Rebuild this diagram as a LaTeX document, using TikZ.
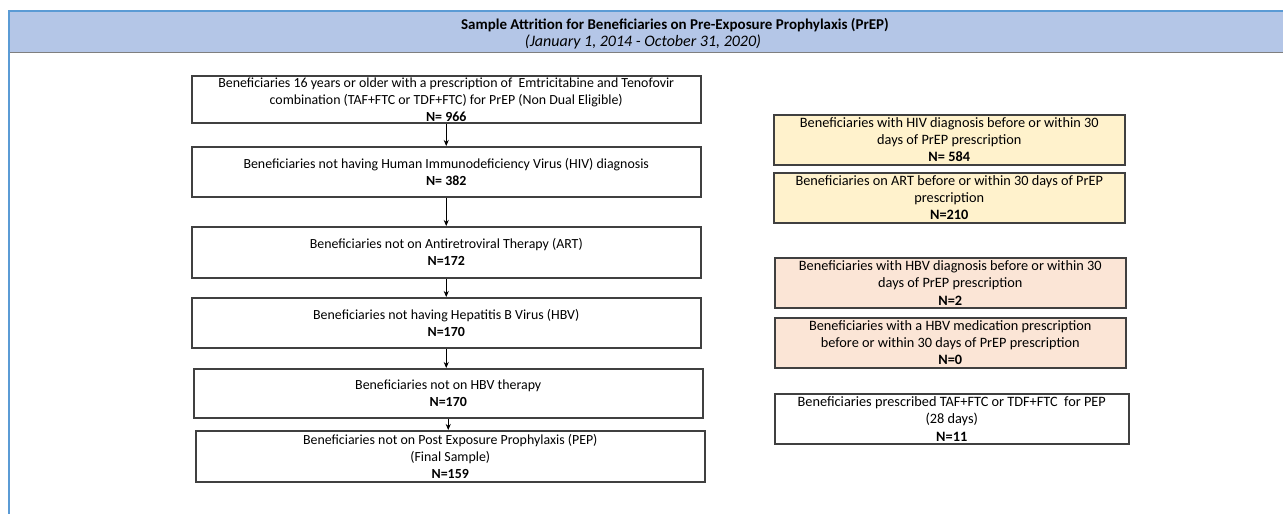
\documentclass[tikz,border=0pt]{standalone}
\usepackage{fontspec}
\setmainfont{Carlito}
\usetikzlibrary{arrows.meta}
\definecolor{hdrblue}{HTML}{B4C6E7}
\definecolor{edgeblue}{HTML}{5B9BD5}
\definecolor{hdrgray}{HTML}{7F7F7F}
\definecolor{yel}{HTML}{FFF2CC}
\definecolor{pnk}{HTML}{FBE5D6}
\definecolor{bord}{HTML}{404040}
\begin{document}
\begin{tikzpicture}[x=1pt,y=-1pt,
  box/.style={draw=bord, line width=1.5pt, inner sep=0pt, align=center, anchor=north west,
    font=\fontsize{13.9}{17}\selectfont},
  mainbox/.style={box, fill=white, minimum width=509pt},
  sidebox/.style={box, minimum width=351pt, minimum height=50pt, font=\fontsize{14.3}{17.3}\selectfont},
  arr/.style={-{Stealth[length=6pt,width=5pt]}, line width=0.6pt, draw=black}]
\useasboundingbox (0,0) rectangle (1283,514);
% header band
\fill[hdrblue] (9,11) rectangle (1283,53);
\draw[edgeblue, line width=1.5pt] (8,11) -- (1283,11);
\draw[hdrgray, line width=1.5pt] (9,52.5) -- (1283,52.5);
\draw[edgeblue, line width=2pt] (9,10) -- (9,514);
\node (title) at (675,25) {\fontsize{15}{17}\selectfont\bfseries Sample Attrition for Beneficiaries on Pre-Exposure Prophylaxis (PrEP)};
\node (subtitle) at (643,42) {\fontsize{16}{17}\selectfont\itshape (January 1, 2014 - October 31, 2020)};
% main column
\node[mainbox, minimum height=47pt] (b1) at (191,75) {Beneficiaries 16 years or older with a prescription of \ Emtricitabine and Tenofovir\\combination (TAF+FTC or TDF+FTC) for PrEP (Non Dual Eligible)\\\textbf{N= 966}};
\node[mainbox, minimum height=50pt] (b2) at (191,146) {Beneficiaries not having Human Immunodeficiency Virus (HIV) diagnosis\\\textbf{N= 382}};
\node[mainbox, minimum height=51pt] (b3) at (191,226) {Beneficiaries not on Antiretroviral Therapy (ART)\\\textbf{N=172}};
\node[mainbox, minimum height=50pt] (b4) at (191,297) {Beneficiaries not having Hepatitis B Virus (HBV)\\\textbf{N=170}};
\node[mainbox, minimum height=49pt] (b5) at (193,368) {Beneficiaries not on HBV therapy\\\textbf{N=170}};
\node[mainbox, minimum height=51pt] (b6) at (195,430) {Beneficiaries not on Post Exposure Prophylaxis (PEP)\\(Final Sample)\\\textbf{N=159}};
\draw[arr] (b1.south) -- (b1.south |- b2.north);
\draw[arr] (b2.south) -- (b2.south |- b3.north);
\draw[arr] (b3.south) -- (b3.south |- b4.north);
\draw[arr] (b4.south) -- (b4.south |- b5.north);
\draw[arr] (b5.south) -- (b5.south |- b6.north);
% side column
\node[sidebox, fill=yel] (s1) at (773,114) {Beneficiaries with HIV diagnosis before or within 30\\days of PrEP prescription\\\textbf{N= 584}};
\node[sidebox, fill=yel] (s2) at (773,172) {Beneficiaries on ART before or within 30 days of PrEP\\prescription\\\textbf{N=210}};
\node[sidebox, fill=pnk] (s3) at (774,257) {Beneficiaries with HBV diagnosis before or within 30\\days of PrEP prescription\\\textbf{N=2}};
\node[sidebox, fill=pnk] (s4) at (774,317) {Beneficiaries with a HBV medication prescription\\before or within 30 days of PrEP prescription\\\textbf{N=0}};
\node[sidebox, fill=white, minimum width=354pt] (s5) at (774,393) {Beneficiaries prescribed TAF+FTC or TDF+FTC \ for PEP\\(28 days)\\\textbf{N=11}};
\end{tikzpicture}
\end{document}
